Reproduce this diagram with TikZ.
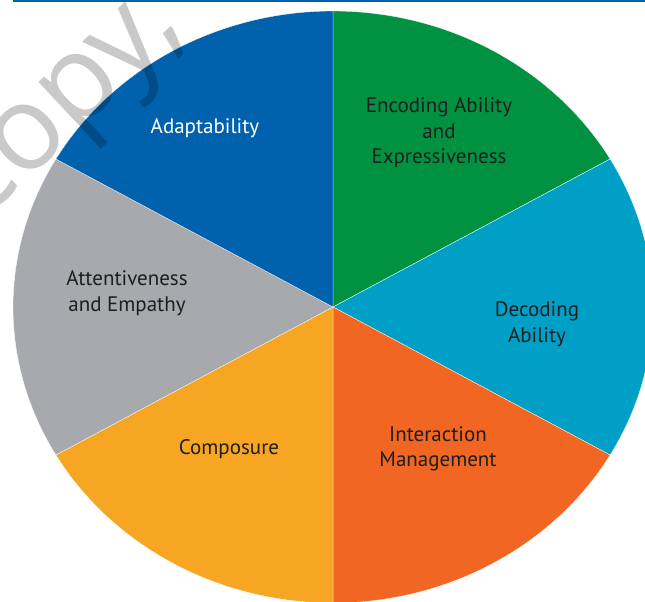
\documentclass[tikz,border=0pt]{standalone}
\usepackage{fontspec}
\setmainfont{PT Sans}
\newfontfamily\wmfont{Open Sans}
\definecolor{cgreen}{RGB}{0,146,64}
\definecolor{cteal}{RGB}{0,160,198}
\definecolor{corange}{RGB}{242,102,35}
\definecolor{cyellow}{RGB}{246,166,35}
\definecolor{cgray}{RGB}{167,169,172}
\definecolor{cblue}{RGB}{0,97,173}
\definecolor{ctext}{RGB}{30,30,30}
\begin{document}
\begin{tikzpicture}[x=1pt,y=-1pt,
  sector/.style={draw=white, line width=0.3pt},
  lbl/.style={align=center, text=ctext, font=\fontsize{21}{25.5}\selectfont, inner sep=0pt},
  wm/.style={font=\wmfont\fontsize{118}{118}\selectfont, text=black, text opacity=0.21, inner sep=0pt}]
\clip (0,0) rectangle (645,602);
\fill[white] (0,0) rectangle (645,602);
\coordinate (C) at (333,307);
\fill[cblue] (13,0) rectangle (645,2);
\foreach \a/\b/\c in {-90/-30/cgreen, -30/30/cteal, 30/90/corange, 90/150/cyellow, 150/210/cgray, 210/270/cblue}{
  \filldraw[sector, fill=\c] (C) -- plot[domain=\a:\b, samples=60] ({333+320*cos(\x)},{307+296*sin(\x)}) -- cycle;
}
\node[lbl, text=white] (adapt) at (205,128) {Adaptability};
\node[lbl] (enc) at (439,133) {Encoding Ability\\and\\Expressiveness};
\node[lbl] (dec) at (537,324) {Decoding\\Ability};
\node[lbl] (inter) at (438,449) {Interaction\\Management};
\node[lbl] (comp) at (229,449) {Composure};
\node[lbl] (att) at (127,293) {Attentiveness\\and Empathy};
\node[wm, rotate=43, anchor=base] (wmark) at (84,127) {copy,};
\end{tikzpicture}
\end{document}
